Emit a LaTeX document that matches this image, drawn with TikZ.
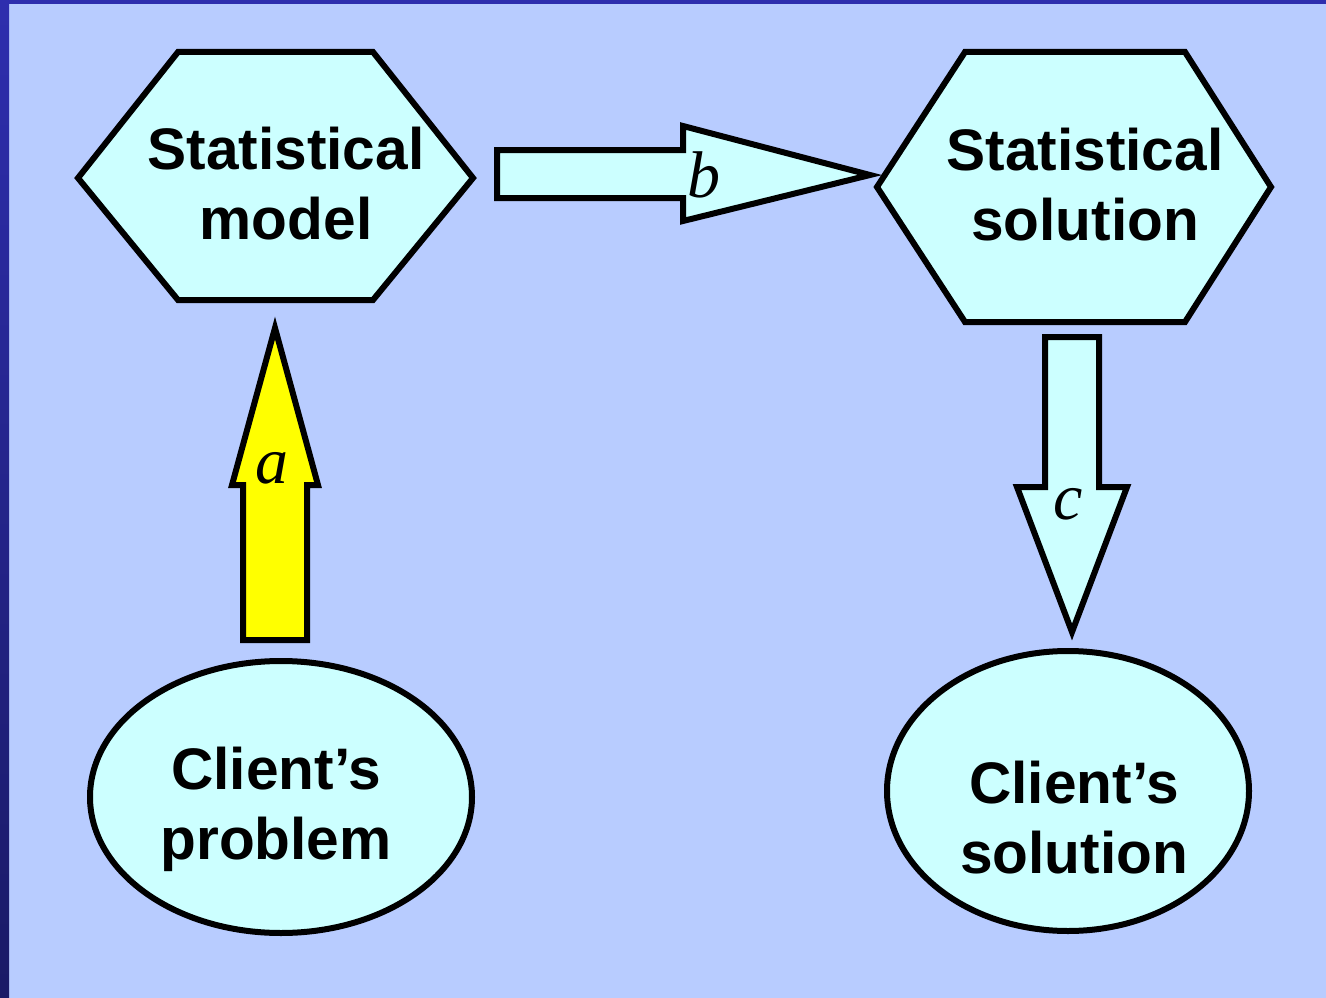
\documentclass[tikz,border=0pt]{standalone}
\usepackage{fontspec}
\setmainfont{Liberation Sans}
\newfontfamily\letterfont{Liberation Serif}
\usetikzlibrary{shapes.geometric}
\definecolor{pagebg}{HTML}{B8CCFF}
\definecolor{bandtop}{HTML}{2E2EAE}
\definecolor{bandbot}{HTML}{1A1A66}
\definecolor{boxfill}{HTML}{CCFFFF}
\definecolor{hilite}{HTML}{FFFF00}
\begin{document}
\begin{tikzpicture}[x=1pt,y=-1pt,
  outline/.style={draw=black,line width=6pt,line join=miter},
  shapefill/.style={outline,fill=boxfill},
  caption/.style={align=center,inner sep=0pt,font=\fontsize{58.6}{70}\selectfont\bfseries},
  letter/.style={inner sep=0pt,anchor=base,font=\fontsize{66}{70}\selectfont\letterfont\itshape}]
\useasboundingbox (0,0) rectangle (1326,998);
% page background with the dark frame on the left and top
\fill[pagebg] (0,0) rectangle (1326,998);
\fill[bandtop] (0,0) rectangle (1326,4);
\shade[top color=bandtop,bottom color=bandbot] (0,0) rectangle (9,998);

% hexagon: statistical model
\draw[shapefill] (78,178) -- (178,52) -- (373,52) -- (473,178) -- (373,300) -- (178,300) -- cycle;
\node[caption] (model) at (286,184) {Statistical\\model};

% hexagon: statistical solution
\draw[shapefill] (877,187) -- (965,52) -- (1185,52) -- (1271,187) -- (1185,322) -- (965,322) -- cycle;
\node[caption] (statsol) at (1085,185) {Statistical\\solution};

% ellipses: client's problem and solution
\node[shapefill,ellipse,minimum width=382pt,minimum height=272pt,inner sep=0pt] (problem) at (281,797) {};
\node[caption] (problemtext) at (276,809) {Client’s\\problem};
\node[shapefill,ellipse,minimum width=362pt,minimum height=280pt,inner sep=0pt] (clientsol) at (1068,791) {};
\node[caption] (clientsoltext) at (1074,818) {Client’s\\solution};

% block arrow a (upwards)
\draw[outline,fill=hilite] (243,640) -- (243,485) -- (232,485) -- (275,328) -- (318,485) -- (307,485) -- (307,640) -- cycle;
\node[letter] (la) at (272,483) {a};

% block arrow b (rightwards)
\draw[shapefill] (497,150) -- (683,150) -- (683,126) -- (870,175) -- (683,221) -- (683,198) -- (497,198) -- cycle;
\node[letter] (lb) at (704,197) {b};

% block arrow c (downwards)
\draw[shapefill] (1045,337) -- (1099,337) -- (1099,487) -- (1127,487) -- (1072,632) -- (1017,487) -- (1045,487) -- cycle;
\node[letter] (lc) at (1068,519) {c};
\end{tikzpicture}
\end{document}
